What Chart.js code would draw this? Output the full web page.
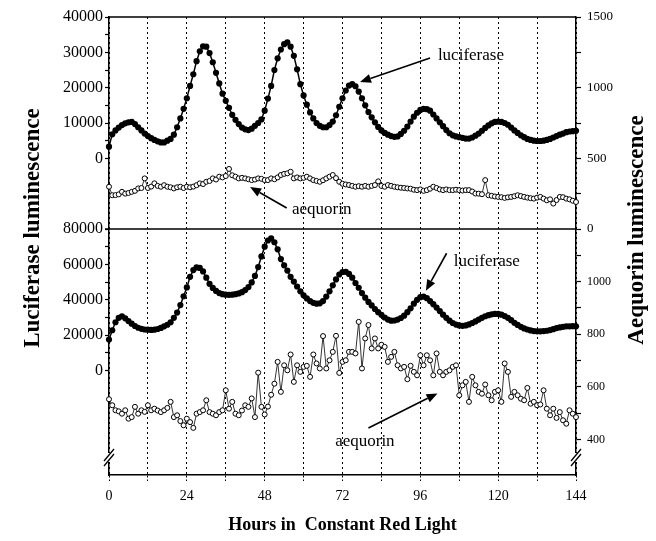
<!DOCTYPE html>
<html>
<head>
<meta charset="utf-8">
<script src="https://cdn.jsdelivr.net/npm/chart.js@4.4.1/dist/chart.umd.min.js"></script>
<style>
  html, body { margin: 0; padding: 0; background: #fff; }
  #wrap { width: 656px; height: 541px; }
</style>
</head>
<body>
<div id="wrap"><canvas id="chart" width="656" height="541"></canvas></div>
<script>
// hours 0..144, one sample per hour
const hours = Array.from({length: 145}, (_, i) => i);

// upper panel
const lucTop = [
  3300, 6800, 7900, 8700, 9400, 9900, 10200, 10300, 9700, 8800,
  7900, 7000, 6300, 5700, 5200, 4800, 4500, 4500, 5000, 5500,
  6700, 8800, 11300, 14000, 17000, 20500, 23800, 27500, 30300, 31700,
  31600, 29800, 27200, 24200, 21200, 18300, 16300, 14300, 12300, 10900,
  9700, 8700, 8200, 8000, 8400, 9200, 10000, 11000, 13500, 16900,
  20500, 25000, 28300, 30800, 32300, 32800, 31600, 29000, 25200, 21000,
  17800, 15200, 13000, 11300, 10000, 9200, 8800, 8800, 9400, 10400,
  12200, 14600, 17000, 19200, 20600, 21000, 20400, 18900, 17000, 15000,
  13100, 11600, 10200, 8900, 7900, 7200, 6700, 6300, 6100, 6200,
  6900, 7800, 9000, 10400, 11800, 12900, 13700, 14000, 13900, 13500,
  12400, 11300, 10200, 9100, 8000, 7100, 6500, 6200, 6000, 5800,
  5600, 5600, 5900, 6400, 7000, 7800, 8600, 9300, 9900, 10300,
  10400, 10300, 10000, 9500, 8700, 7900, 7200, 6500, 6000, 5500,
  5200, 5000, 4900, 4900, 5000, 5200, 5500, 5900, 6300, 6700,
  7000, 7400, 7600, 7700, 7800
];
const aeqTop = [
  299, 239, 240, 245, 263, 250, 255, 263, 270, 287,
  290, 358, 290, 300, 323, 305, 299, 310, 299, 295,
  287, 295, 299, 290, 299, 295, 300, 310, 323, 318,
  334, 340, 358, 350, 370, 365, 375, 425, 380, 370,
  358, 362, 358, 352, 346, 350, 358, 355, 346, 346,
  358, 352, 365, 382, 390, 394, 405, 358, 365, 358,
  362, 370, 358, 346, 340, 334, 345, 358, 370, 382,
  360, 334, 320, 315, 311, 305, 299, 303, 299, 305,
  299, 305, 311, 337, 305, 299, 311, 305, 299, 295,
  292, 290, 287, 285, 278, 275, 280, 270, 275, 285,
  299, 290, 280, 275, 280, 275, 275, 278, 275, 272,
  275, 275, 265, 251, 250, 246, 346, 239, 235, 230,
  227, 225, 220, 224, 227, 232, 239, 233, 227, 222,
  218, 215, 222, 227, 215, 203, 210, 180, 205, 227,
  225, 215, 210, 200, 191
];

// lower panel
const lucBot = [
  17500, 22800, 27300, 29800, 30700, 29500, 28000, 26500, 25200, 24200,
  23600, 23200, 23100, 23000, 23100, 23500, 24100, 25000, 25900, 27300,
  29800, 32800, 37000, 42000, 47000, 53000, 56800, 58300, 58000, 56000,
  52500, 49000, 46700, 45000, 43800, 43200, 42900, 42800, 42900, 43200,
  43600, 44300, 45500, 47200, 49800, 53500, 58500, 64500, 70000, 73500,
  74700, 72500, 68500, 63000, 59500, 56500, 53000, 50300, 47500, 44800,
  42500, 40800, 39300, 38300, 37800, 38000, 39300, 41800, 44800, 48200,
  51500, 54300, 55700, 55800, 54600, 52500, 49500, 46800, 43800, 41200,
  38800, 36800, 34800, 33000, 31500, 30000, 28800, 28200, 28300, 28800,
  29700, 31000, 33000, 35200, 37800, 40000, 41500, 41800, 40900, 39300,
  37500, 35600, 33600, 31600, 29800, 28200, 26900, 26000, 25500, 25300,
  25500, 26100, 26900, 27800, 28800, 29800, 30700, 31300, 31800, 32000,
  32000, 31600, 30800, 29800, 28500, 27000, 25800, 24700, 23800, 23200,
  22700, 22300, 22200, 22200, 22300, 22500, 22900, 23400, 24000, 24400,
  24700, 25000, 25000, 25100, 25000
];
const aeqBot = [
  553, 530, 511, 507, 498, 511, 479, 485, 524, 498,
  511, 505, 530, 511, 517, 510, 504, 511, 520, 543,
  485, 492, 470, 454, 479, 466, 444, 498, 504, 511,
  549, 504, 498, 492, 504, 511, 587, 517, 543, 498,
  492, 510, 530, 524, 556, 485, 654, 524, 495, 525,
  570, 612, 695, 581, 682, 663, 723, 619, 682, 657,
  676, 680, 638, 723, 689, 670, 793, 670, 701, 733,
  794, 653, 695, 701, 733, 733, 727, 847, 670, 784,
  835, 746, 784, 746, 760, 752, 695, 714, 733, 682,
  670, 676, 629, 680, 657, 644, 720, 682, 720, 701,
  644, 727, 657, 644, 657, 663, 676, 682, 568, 606,
  619, 543, 638, 606, 581, 574, 609, 568, 549, 581,
  587, 543, 689, 657, 562, 581, 568, 555, 549, 596,
  536, 543, 530, 533, 587, 517, 492, 517, 482, 504,
  473, 460, 511, 498, 485
];

const serif = '"Liberation Serif", "Times New Roman", serif';
Chart.defaults.font.family = serif;
Chart.defaults.color = '#000';

// text labels and arrows, placed in data units of the given axis
const noteLabels = [
  {text: 'luciferase', x: 111.6, y: 29000, axis: 'yTop'},
  {text: 'aequorin', x: 65.6, y: 135, axis: 'rTop'},
  {text: 'luciferase', x: 116.5, y: 61500, axis: 'yBot'},
  {text: 'aequorin', x: 78.9, y: -40000, axis: 'yBot'}
];
const noteArrows = [
  {from: [99, 28400], to: [77.4, 21600], axis: 'yTop'},
  {from: [54.8, 149], to: [43.5, 297], axis: 'rTop'},
  {from: [104.1, 66300], to: [97.7, 45100], axis: 'yBot'},
  {from: [80, -32400], to: [101.3, -12900], axis: 'yBot'}
];

function pts(vals) {
  return vals.map((v, i) => ({x: hours[i], y: v}));
}

const framePlugin = {
  id: 'frame',
  afterDatasetsDraw(chart) {
    const {ctx, chartArea: a, scales} = chart;
    const split = scales.yTop.bottom;
    ctx.save();
    ctx.strokeStyle = '#000';
    ctx.lineWidth = 1.5;
    ctx.beginPath();
    ctx.moveTo(a.left, a.top); ctx.lineTo(a.right, a.top);
    ctx.moveTo(a.left - 4, split); ctx.lineTo(a.right, split);
    ctx.stroke();

    // axis breaks
    [a.left, a.right].forEach(bx => {
      ctx.fillStyle = '#fff';
      ctx.fillRect(bx - 2, a.bottom - 22, 4, 9);
      ctx.beginPath();
      ctx.lineWidth = 1.3;
      ctx.moveTo(bx - 5, a.bottom - 14); ctx.lineTo(bx + 5, a.bottom - 26);
      ctx.moveTo(bx - 5, a.bottom - 9); ctx.lineTo(bx + 5, a.bottom - 21);
      ctx.stroke();
    });

    // notes
    const sx = scales.x;
    ctx.fillStyle = '#000';
    ctx.font = '17px ' + serif;
    ctx.textAlign = 'center';
    ctx.textBaseline = 'middle';
    noteLabels.forEach(n => {
      ctx.fillText(n.text, sx.getPixelForValue(n.x), scales[n.axis].getPixelForValue(n.y));
    });
    noteArrows.forEach(n => {
      const sy = scales[n.axis];
      const x1 = sx.getPixelForValue(n.from[0]), y1 = sy.getPixelForValue(n.from[1]);
      const x2 = sx.getPixelForValue(n.to[0]), y2 = sy.getPixelForValue(n.to[1]);
      const ang = Math.atan2(y2 - y1, x2 - x1);
      const hl = 11, hw = 4.5;
      const bx = x2 - hl * Math.cos(ang), by = y2 - hl * Math.sin(ang);
      ctx.lineWidth = 1.6;
      ctx.beginPath();
      ctx.moveTo(x1, y1); ctx.lineTo(bx, by);
      ctx.stroke();
      ctx.beginPath();
      ctx.moveTo(x2, y2);
      ctx.lineTo(bx + hw * Math.sin(ang), by - hw * Math.cos(ang));
      ctx.lineTo(bx - hw * Math.sin(ang), by + hw * Math.cos(ang));
      ctx.closePath();
      ctx.fill();
    });

    // side titles
    ctx.font = 'bold 23px ' + serif;
    [['Luciferase luminescence', 33, 228], ['Aequorin luminescence', 637, 230]].forEach(([t, tx, ty]) => {
      ctx.save();
      ctx.translate(tx, ty);
      ctx.rotate(-Math.PI / 2);
      ctx.fillText(t, 0, 0);
      ctx.restore();
    });
    ctx.restore();
  }
};

function yAxis(pos, stackWeight, min, max, step, labelEvery, lo, hi, size, width) {
  return {
    type: 'linear', position: pos, stack: pos, stackWeight: stackWeight,
    min: min, max: max,
    afterBuildTicks: s => {
      const t = [];
      for (let v = lo; v <= hi; v += step) t.push({value: v});
      s.ticks = t;
    },
    afterFit: s => { s.width = width; },
    ticks: {
      stepSize: step, autoSkip: false,
      callback: v => (v % labelEvery === 0 ? v : ''),
      font: {size: size}, color: '#000',
      padding: pos === 'left' ? 2 : 6
    },
    grid: {drawOnChartArea: false, tickLength: pos === 'left' ? 4 : 5, tickColor: '#000', tickWidth: 1.2},
    border: {color: '#000', width: 1.5}
  };
}

const luc = {pointRadius: 3.1, pointBackgroundColor: '#000', pointBorderWidth: 0,
  borderColor: '#000', borderWidth: 1.5, showLine: true, clip: false};
const aeq = {pointRadius: 2.5, pointBackgroundColor: '#fff', pointBorderColor: '#000',
  pointBorderWidth: 1, borderColor: '#000', borderWidth: 0.8, showLine: true, clip: false};

new Chart(document.getElementById('chart'), {
  type: 'line',
  data: {
    datasets: [
      Object.assign({label: 'aequorin', data: pts(aeqTop), yAxisID: 'rTop'}, aeq),
      Object.assign({label: 'luciferase', data: pts(lucTop), yAxisID: 'yTop'}, luc),
      Object.assign({label: 'aequorin', data: pts(aeqBot), yAxisID: 'rBot'}, aeq),
      Object.assign({label: 'luciferase', data: pts(lucBot), yAxisID: 'yBot'}, luc)
    ]
  },
  options: {
    responsive: false,
    animation: false,
    events: [],
    layout: {padding: {top: 17, left: 0, right: 0, bottom: 0}},
    plugins: {legend: {display: false}, tooltip: {enabled: false}},
    scales: {
      x: {
        type: 'linear', min: 0, max: 144,
        afterFit: s => { s.height = 66; },
        ticks: {
          stepSize: 12, autoSkip: false, maxRotation: 0,
          callback: v => (v % 24 === 0 ? v : ''),
          font: {size: 14}, color: '#000', padding: 7
        },
        grid: {color: '#000', lineWidth: 1, tickLength: 6, tickColor: '#000', tickBorderDash: [2, 2]},
        border: {color: '#000', width: 1.5, dash: [2, 3]},
        title: {display: true, text: 'Hours in  Constant Red Light',
          font: {size: 18, weight: 'bold'}, color: '#000', padding: {top: 0, bottom: 5}}
      },
      yBot: yAxis('left', 246, -59000, 80000, 10000, 20000, 0, 80000, 16, 109),
      yTop: yAxis('left', 212, -20000, 40000, 5000, 10000, 0, 40000, 16, 109),
      rTop: yAxis('right', 212, 0, 1500, 250, 500, 0, 1500, 13, 80),
      rBot: yAxis('right', 246, 265, 1200, 100, 200, 400, 1100, 12, 80)
    }
  },
  plugins: [framePlugin]
});
</script>
</body>
</html>
